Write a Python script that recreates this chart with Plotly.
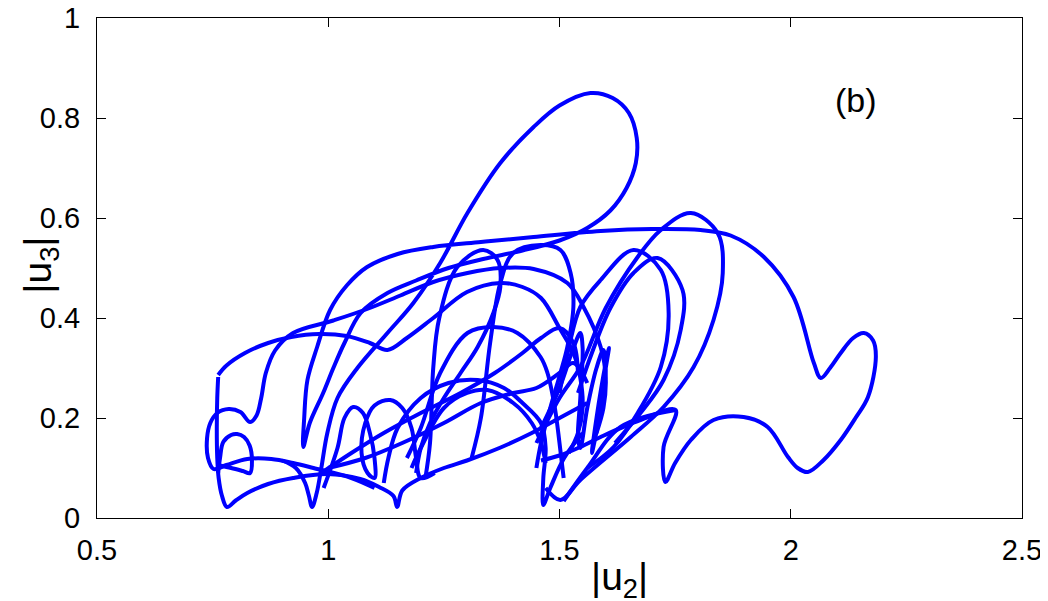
import plotly.graph_objects as go

# Trajectory pieces (|u2|, |u3|)
top_arc_u2 = [0.762,0.78,0.82,0.87,0.92,0.98,1.04,1.09,1.128,1.17,1.227,1.30,1.372,1.42,1.46,1.50,1.53,1.545,1.55,1.54,1.52]
top_arc_u3 = [0.286,0.305,0.33,0.35,0.362,0.368,0.364,0.35,0.336,0.36,0.40,0.452,0.47,0.462,0.44,0.38,0.33,0.28,0.22,0.17,0.13]

low_u2 = [0.762,0.760,0.759,0.760,0.763,0.770,0.781,0.80,0.825,0.87,0.924,0.998,1.069,1.11,1.141,1.149,1.16,1.20,1.25,1.30,1.37,1.44,1.50,1.56]
low_u3 = [0.282,0.24,0.18,0.12,0.08,0.045,0.022,0.035,0.05,0.068,0.08,0.088,0.078,0.062,0.044,0.022,0.055,0.08,0.10,0.115,0.14,0.17,0.20,0.23]

bump_u2 = [1.10,1.05,0.968,0.924,0.877,0.825,0.78,0.752,0.740,0.738,0.745,0.76,0.785,0.81,0.831,0.845,0.855,0.865,0.885,0.924,1.011,1.084,1.156,1.227,1.301,1.372,1.444,1.517,1.552,1.589,1.60,1.595,1.58]
bump_u3 = [0.06,0.08,0.10,0.11,0.118,0.118,0.106,0.098,0.12,0.16,0.19,0.21,0.218,0.212,0.192,0.205,0.24,0.29,0.335,0.37,0.395,0.418,0.445,0.472,0.49,0.50,0.498,0.47,0.422,0.342,0.28,0.22,0.17]

small_u2 = [0.762,0.766,0.773,0.79,0.803,0.818,0.83,0.835,0.831,0.815,0.79,0.766]
small_u3 = [0.09,0.12,0.152,0.166,0.168,0.162,0.145,0.116,0.09,0.094,0.10,0.105]

big_u2 = [0.90,0.93,0.95,0.958,0.965,0.975,0.985,0.998,1.02,1.063,1.128,1.184,1.242,1.301,1.372,1.444,1.50,1.567,1.615,1.65,1.667,1.665,1.645,1.61,1.56,1.50,1.42,1.335,1.26,1.19,1.128,1.07,1.035,1.011,0.989,0.96,0.946,
          0.948,0.955,0.976,1.004,1.04,1.084,1.15,1.227,1.33,1.444,1.589,1.70,1.805,1.87,1.942,2.006,2.05,2.065,2.085,2.108,2.135,2.158,2.178,2.184,2.167,2.14,2.108,2.07,2.037,2.015,1.994,1.95,1.898,1.833,1.784,1.75,1.729,1.725,1.751,1.675,1.589,1.545,1.50,1.46]
big_u3 = [0.115,0.10,0.07,0.045,0.022,0.05,0.10,0.17,0.24,0.30,0.37,0.43,0.51,0.61,0.71,0.782,0.825,0.85,0.84,0.81,0.76,0.71,0.66,0.615,0.58,0.555,0.535,0.518,0.50,0.475,0.45,0.41,0.35,0.30,0.25,0.19,0.142,
          0.2,0.276,0.342,0.416,0.465,0.502,0.528,0.542,0.552,0.562,0.574,0.578,0.576,0.565,0.522,0.442,0.31,0.28,0.30,0.33,0.36,0.37,0.355,0.322,0.242,0.20,0.156,0.115,0.092,0.10,0.122,0.182,0.202,0.196,0.156,0.11,0.072,0.142,0.216,0.196,0.162,0.142,0.125,0.115]

arc1_u2 = [1.21,1.22,1.227,1.24,1.279,1.335,1.366,1.372,1.357,1.323,1.286,1.25,1.22,1.20,1.19]
arc1_u3 = [0.08,0.15,0.30,0.40,0.502,0.536,0.516,0.462,0.41,0.342,0.29,0.24,0.19,0.14,0.09]

arc2_u2 = [1.31,1.33,1.35,1.372,1.40,1.459,1.502,1.524,1.530,1.517,1.502,1.48,1.46,1.45]
arc2_u3 = [0.12,0.20,0.35,0.47,0.53,0.546,0.536,0.49,0.422,0.342,0.29,0.22,0.15,0.10]

arc3_u2 = [1.17,1.20,1.242,1.301,1.357,1.409,1.459,1.474,1.49,1.50,1.509]
arc3_u3 = [0.12,0.18,0.29,0.37,0.382,0.37,0.322,0.29,0.22,0.15,0.08]

arc4_u2 = [1.12,1.13,1.15,1.20,1.26,1.323,1.38,1.42,1.46,1.47,1.465,1.465,1.48,1.51,1.55]
arc4_u3 = [0.07,0.12,0.18,0.24,0.27,0.276,0.26,0.23,0.19,0.14,0.08,0.026,0.06,0.12,0.17]

arc5_u2 = [1.18,1.20,1.25,1.30,1.344,1.40,1.44,1.46,1.47]
arc5_u3 = [0.10,0.14,0.22,0.25,0.256,0.23,0.19,0.15,0.11]

lobe_u2 = [0.99,1.02,1.035,1.054,1.075,1.09,1.10,1.10,1.085,1.072,1.08,1.10,1.134,1.16,1.18,1.19,1.20,1.23]
lobe_u3 = [0.06,0.14,0.20,0.222,0.21,0.17,0.12,0.08,0.09,0.13,0.19,0.225,0.236,0.22,0.18,0.12,0.08,0.09]

diag1_u2 = [0.985,1.05,1.12,1.20,1.286,1.36,1.42,1.46,1.50,1.53,1.54]
diag1_u3 = [0.09,0.13,0.17,0.21,0.25,0.29,0.33,0.36,0.38,0.35,0.29]

diag2_u2 = [1.00,1.08,1.16,1.25,1.33,1.40,1.45,1.50,1.53,1.56]
diag2_u3 = [0.10,0.12,0.15,0.19,0.23,0.25,0.26,0.29,0.31,0.27]

zig_u2 = [1.46,1.50,1.53,1.545,1.55,1.545,1.54,1.545,1.56,1.58,1.595,1.60,1.59,1.575,1.57,1.58,1.60,1.607,1.60]
zig_u3 = [0.18,0.26,0.34,0.37,0.34,0.24,0.16,0.14,0.22,0.30,0.336,0.30,0.22,0.15,0.13,0.20,0.31,0.34,0.30]

loopA_u2 = [1.45,1.50,1.545,1.60,1.669,1.719,1.784,1.842,1.853,1.833,1.79,1.725,1.654,1.545,1.502,1.47]
loopA_u3 = [0.15,0.24,0.302,0.42,0.522,0.576,0.61,0.57,0.49,0.396,0.302,0.222,0.162,0.076,0.036,0.06]

loopB_u2 = [1.50,1.52,1.545,1.589,1.66,1.719,1.736,1.719,1.669,1.617,1.56]
loopB_u3 = [0.25,0.34,0.422,0.476,0.536,0.496,0.41,0.302,0.21,0.142,0.10]

loopC_u2 = [1.54,1.57,1.61,1.66,1.712,1.766,1.762,1.725,1.675,1.62]
loopC_u3 = [0.25,0.33,0.42,0.49,0.52,0.456,0.376,0.276,0.21,0.15]

corner_u2 = [1.751,1.632,1.56,1.509]
corner_u3 = [0.216,0.182,0.10,0.034]

pieces = [
    (top_arc_u2, top_arc_u3), (low_u2, low_u3), (bump_u2, bump_u3), (small_u2, small_u3),
    (big_u2, big_u3), (arc1_u2, arc1_u3), (arc2_u2, arc2_u3), (arc3_u2, arc3_u3),
    (arc4_u2, arc4_u3), (arc5_u2, arc5_u3), (lobe_u2, lobe_u3), (diag1_u2, diag1_u3),
    (diag2_u2, diag2_u3), (zig_u2, zig_u3), (loopA_u2, loopA_u3), (loopB_u2, loopB_u3),
    (loopC_u2, loopC_u3), (corner_u2, corner_u3),
]

x_ticks = [0.5, 1, 1.5, 2, 2.5]
x_tick_text = ["0.5", "1", "1.5", "2", "2.5"]
y_ticks = [0, 0.2, 0.4, 0.6, 0.8, 1]
y_tick_text = ["0", "0.2", "0.4", "0.6", "0.8", "1"]

fig = go.Figure()
for xs, ys in pieces:
    fig.add_trace(go.Scatter(x=xs, y=ys, mode="lines",
                             line=dict(color="#0000ff", width=4, shape="spline", smoothing=1.0),
                             showlegend=False, hoverinfo="skip"))

font = "Liberation Sans, Arial, Helvetica, sans-serif"
axis_common = dict(showline=True, linecolor="black", linewidth=1, mirror="ticks",
                   ticks="inside", ticklen=9, tickcolor="black", showgrid=False, zeroline=False,
                   automargin=False, ticklabeloverflow="allow",
                   tickfont=dict(family=font, size=29, color="black"))
fig.update_xaxes(range=[0.5, 2.5], tickvals=x_ticks, ticktext=x_tick_text,
                 ticklabelstandoff=6, **axis_common)
fig.update_yaxes(range=[0, 1], tickvals=y_ticks, ticktext=y_tick_text,
                 ticklabelstandoff=10, **axis_common)

fig.update_layout(
    width=1040, height=593,
    margin=dict(l=89, r=26, t=10, b=83),
    paper_bgcolor="white", plot_bgcolor="white",
    annotations=[
        dict(text="|u<sub>2</sub>|", xref="paper", yref="paper", x=0.565, y=-0.07,
             xanchor="center", yanchor="top", showarrow=False,
             font=dict(family=font, size=39, color="black")),
        dict(text="|u<sub>3</sub>|", xref="paper", yref="paper", x=-0.062, y=0.506,
             xanchor="center", yanchor="middle", showarrow=False, textangle=-90,
             font=dict(family=font, size=39, color="black")),
        dict(text="(b)", xref="x", yref="y", x=2.14, y=0.836,
             xanchor="center", yanchor="middle", showarrow=False,
             font=dict(family=font, size=34, color="black")),
    ],
)

fig.write_html("out.html")
